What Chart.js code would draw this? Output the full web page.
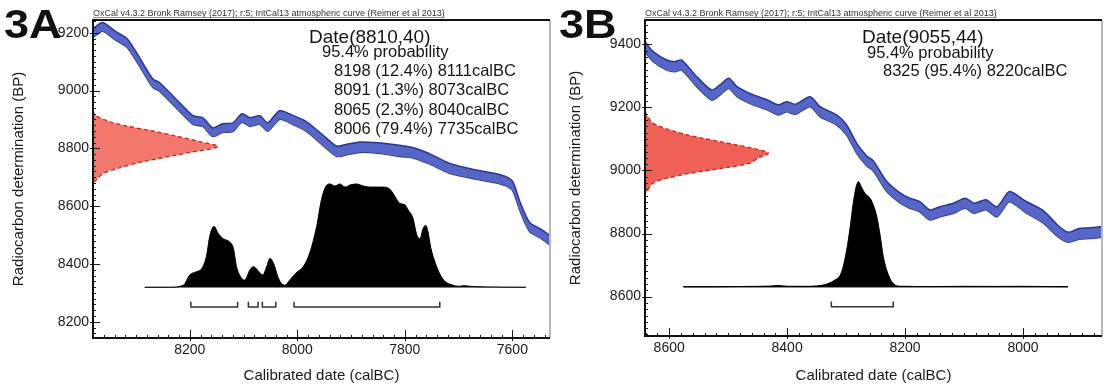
<!DOCTYPE html>
<html>
<head>
<meta charset="utf-8">
<script src="https://cdn.jsdelivr.net/npm/chart.js@4.4.1/dist/chart.umd.min.js"></script>
<style>
  html, body { margin: 0; padding: 0; background: #fff; }
  #wrap { position: relative; width: 1110px; height: 388px; overflow: hidden; }
  .panel { position: absolute; top: 0; width: 555px; height: 388px; }
  .tag { position: absolute; top: 1px; font: bold 41px "Liberation Sans", Arial, sans-serif; color: #111;
         transform: scaleX(1.1); transform-origin: left top; }
</style>
</head>
<body>
<div id="wrap">
  <div class="panel" style="left:0"><canvas id="chartA" width="555" height="388"></canvas></div>
  <div class="panel" style="left:555px"><canvas id="chartB" width="555" height="388"></canvas></div>
  <div class="tag" style="left:4px">3A</div>
  <div class="tag" style="left:559px">3B</div>
</div>
<script>
const header = "OxCal v4.3.2 Bronk Ramsey (2017); r:5; IntCal13 atmospheric curve (Reimer et al 2013)";

// ---- 3A ----
const dateA = "Date(8810,40)";
const fromA = [8198, 8091, 8065, 8006];
const toA = [8111, 8073, 8040, 7735];
const pctA = [12.4, 1.3, 2.3, 79.4];

const curveYearA = [8380, 8362, 8340, 8317, 8299, 8269, 8256, 8219, 8194, 8176, 8157, 8139, 8120, 8103, 8088, 8070, 8055, 8033, 8008, 7982, 7953, 7927, 7908, 7884, 7850, 7804, 7784, 7757, 7718, 7685, 7664, 7632, 7612, 7599, 7586, 7568, 7549, 7530];
const curveHiA = [9214, 9235, 9207, 9180, 9131, 9041, 9027, 8958, 8913, 8906, 8871, 8885, 8888, 8920, 8906, 8913, 8889, 8930, 8914, 8891, 8847, 8808, 8814, 8822, 8819, 8809, 8802, 8784, 8749, 8732, 8724, 8713, 8702, 8684, 8616, 8544, 8523, 8498];
const curveLoA = [9184, 9205, 9177, 9150, 9101, 9011, 8997, 8928, 8883, 8876, 8841, 8855, 8858, 8890, 8876, 8883, 8859, 8900, 8882, 8857, 8811, 8772, 8778, 8786, 8783, 8771, 8766, 8748, 8715, 8700, 8692, 8681, 8670, 8652, 8584, 8512, 8491, 8466];

const redBpA = [8930, 8915, 8892, 8877, 8860, 8842, 8823, 8806, 8786, 8754, 8731, 8713, 8690, 8680];
const redDensA = [0, 0.016, 0.136, 0.27, 0.48, 0.67, 0.856, 1.0, 0.78, 0.40, 0.197, 0.08, 0.024, 0];

const probYearA = [8284, 8237, 8212, 8200, 8188, 8178, 8169, 8163, 8155, 8147, 8138, 8126, 8119, 8113, 8104, 8098, 8088, 8082, 8076, 8070, 8064, 8057, 8051, 8044, 8036, 8030, 8023, 8014, 8002, 7989, 7977, 7964, 7955, 7945, 7939, 7930, 7921, 7911, 7902, 7890, 7877, 7865, 7853, 7840, 7828, 7822, 7815, 7809, 7800, 7794, 7785, 7778, 7772, 7766, 7761, 7757, 7752, 7743, 7734, 7725, 7712, 7700, 7690, 7675, 7650, 7620, 7575];
const probA = [0, 0, 0.02, 0.12, 0.15, 0.18, 0.30, 0.49, 0.59, 0.52, 0.47, 0.44, 0.38, 0.20, 0.09, 0.07, 0.17, 0.20, 0.18, 0.14, 0.12, 0.20, 0.28, 0.23, 0.10, 0.04, 0.02, 0.07, 0.14, 0.20, 0.33, 0.59, 0.85, 0.99, 1.0, 0.98, 1.0, 0.97, 0.99, 1.0, 0.98, 0.97, 0.97, 0.97, 0.95, 0.91, 0.85, 0.81, 0.80, 0.75, 0.67, 0.51, 0.47, 0.57, 0.60, 0.54, 0.39, 0.23, 0.12, 0.055, 0.023, 0.01, 0.015, 0.008, 0.004, 0.001, 0];
const baseA = [8284, 7575];

// ---- 3B ----
const dateB = "Date(9055,44)";
const fromB = [8325];
const toB = [8220];
const pctB = [95.4];

const curveYearB = [8641, 8627, 8604, 8590, 8579, 8553, 8528, 8514, 8499, 8485, 8457, 8434, 8415, 8401, 8386, 8361, 8344, 8316, 8299, 8282, 8265, 8254, 8231, 8208, 8192, 8175, 8158, 8141, 8118, 8098, 8083, 8063, 8044, 8023, 7996, 7965, 7941, 7923, 7905, 7887, 7863];
const curveHiB = [9408, 9377, 9350, 9345, 9350, 9297, 9255, 9271, 9292, 9266, 9239, 9224, 9208, 9218, 9210, 9234, 9202, 9176, 9144, 9086, 9046, 9031, 8965, 8928, 8912, 8901, 8875, 8885, 8896, 8912, 8896, 8907, 8885, 8933, 8903, 8872, 8826, 8804, 8816, 8818, 8823];
const curveLoB = [9376, 9345, 9318, 9313, 9318, 9265, 9223, 9239, 9260, 9234, 9207, 9192, 9176, 9186, 9178, 9202, 9170, 9144, 9112, 9054, 9014, 8999, 8933, 8896, 8880, 8869, 8843, 8853, 8864, 8880, 8864, 8875, 8853, 8901, 8867, 8832, 8790, 8772, 8782, 8784, 8789];

const redBpB = [9187, 9176, 9150, 9128, 9113, 9102, 9091, 9081, 9070, 9055, 9040, 9023, 9007, 8991, 8975, 8960, 8933, 8923];
const redDensB = [0, 0.014, 0.065, 0.203, 0.341, 0.47, 0.608, 0.746, 0.876, 1.0, 0.92, 0.85, 0.63, 0.365, 0.176, 0.067, 0.014, 0];

const probYearB = [8576, 8520, 8470, 8430, 8415, 8400, 8370, 8350, 8333, 8319, 8310, 8305, 8299, 8293, 8288, 8283, 8279, 8274, 8268, 8259, 8254, 8248, 8242, 8237, 8228, 8220, 8208, 8150, 8100, 8050, 8000, 7924];
const probB = [0, 0, 0.003, 0.006, 0.012, 0.005, 0.004, 0.008, 0.025, 0.064, 0.11, 0.19, 0.35, 0.57, 0.79, 0.95, 1.0, 0.95, 0.89, 0.84, 0.78, 0.67, 0.48, 0.29, 0.11, 0.03, 0.005, 0.002, 0.004, 0.003, 0.004, 0];
const baseB = [8576, 7924];

const FONT = '"Liberation Sans", Arial, sans-serif';
Chart.defaults.font.family = FONT;
Chart.defaults.color = '#1a1a1a';

// major ticks every 200 only
function hundreds(s) {
  const t = [];
  for (let v = Math.ceil(s.min / 200) * 200; v <= s.max; v += 200) t.push({value: v});
  s.ticks = t;
}

// axis frame with OxCal style minor ticks
const frame = {
  id: 'frame',
  afterDraw(chart) {
    const {ctx, chartArea: a, scales: {x, y}} = chart;
    ctx.save();
    ctx.strokeStyle = '#1a1a1a';
    ctx.lineWidth = 1;
    for (let v = Math.ceil(y.min / 20) * 20; v <= y.max; v += 20) {
      const py = Math.round(y.getPixelForValue(v)) + 0.5;
      const major = v % 200 === 0;
      ctx.beginPath();
      ctx.moveTo(a.left - (major ? 3 : 0), py);
      ctx.lineTo(a.left + (major ? 7 : 3), py);
      ctx.stroke();
    }
    for (let v = Math.ceil(x.min / 20) * 20; v <= x.max; v += 20) {
      const px = Math.round(x.getPixelForValue(v)) + 0.5;
      const major = v % 200 === 0;
      ctx.beginPath();
      ctx.moveTo(px, a.bottom + (major ? 3 : 0));
      ctx.lineTo(px, a.bottom - (major ? 8 : 3));
      ctx.stroke();
    }
    ctx.lineWidth = 2;
    ctx.strokeStyle = '#b8b8b8';
    ctx.beginPath();
    ctx.moveTo(a.right, a.top);
    ctx.lineTo(a.right, a.bottom);
    ctx.stroke();
    ctx.strokeStyle = '#111';
    ctx.beginPath();
    ctx.moveTo(a.right, a.top);
    ctx.lineTo(a.left, a.top);
    ctx.lineTo(a.left, a.bottom);
    ctx.lineTo(a.right, a.bottom);
    ctx.stroke();
    ctx.restore();
  }
};

// OxCal text block
const notes = {
  id: 'notes',
  afterDraw(chart, args, o) {
    const {ctx, chartArea: a} = chart;
    ctx.save();
    ctx.fillStyle = '#333';
    ctx.font = '9px ' + FONT;
    ctx.textBaseline = 'alphabetic';
    ctx.fillText(header, a.left, 16);
    const w = ctx.measureText(header).width;
    ctx.strokeStyle = '#777';
    ctx.lineWidth = 0.8;
    ctx.beginPath();
    ctx.moveTo(a.left, 17.5);
    ctx.lineTo(a.left + w, 17.5);
    ctx.stroke();

    ctx.fillStyle = '#151515';
    ctx.textBaseline = 'middle';
    ctx.font = '19px ' + FONT;
    ctx.fillText(o.date, o.dateX, o.dateY);
    ctx.font = '16.5px ' + FONT;
    ctx.fillText('95.4% probability', o.probX, o.probY);
    o.from.forEach((f, i) => {
      ctx.fillText(f + ' (' + o.pct[i] + '%) ' + o.to[i] + 'calBC', o.rowX, o.rowY + i * 19.5);
    });
    ctx.restore();
  }
};

function makeChart(id, cfg) {
  const datasets = [
    {
      // calibrated probability
      data: cfg.probYear.map((yr, i) => ({x: yr, y: cfg.prob[i]})),
      yAxisID: 'yd',
      borderColor: '#000',
      borderWidth: 1,
      backgroundColor: '#000',
      fill: {value: 0},
      cubicInterpolationMode: 'monotone',
      pointRadius: 0
    },
    {
      data: cfg.base.map(yr => ({x: yr, y: 0})),
      yAxisID: 'yd',
      borderColor: cfg.baseColor,
      borderWidth: 1.5,
      pointRadius: 0,
      fill: false
    },
    // calibration curve band
    {
      data: cfg.curveYear.map((yr, i) => ({x: yr, y: cfg.curveHi[i]})),
      borderColor: '#2c3690',
      borderWidth: 1.5,
      backgroundColor: '#5566c6',
      fill: '+1',
      tension: 0.25,
      pointRadius: 0
    },
    {
      data: cfg.curveYear.map((yr, i) => ({x: yr, y: cfg.curveLo[i]})),
      borderColor: '#2c3690',
      borderWidth: 1.5,
      fill: false,
      tension: 0.25,
      pointRadius: 0
    },
    // radiocarbon date distribution
    {
      data: cfg.redBp.map((bp, i) => ({x: cfg.redDens[i], y: bp})),
      xAxisID: 'xd',
      borderColor: '#c8251a',
      borderWidth: 1.3,
      borderDash: [4, 3],
      backgroundColor: cfg.redFill,
      fill: 'shape',
      tension: 0.3,
      pointRadius: 0
    }
  ];
  // ranges shown as brackets under the distribution
  cfg.from.forEach((f, i) => {
    datasets.push({
      data: [{x: f, y: -0.14}, {x: f, y: -0.19}, {x: cfg.to[i], y: -0.19}, {x: cfg.to[i], y: -0.14}],
      yAxisID: 'yd',
      borderColor: '#333',
      borderWidth: 1.5,
      pointRadius: 0,
      fill: false
    });
  });

  return new Chart(document.getElementById(id), {
    type: 'line',
    data: {datasets},
    options: {
      responsive: false,
      animation: false,
      events: [],
      layout: {padding: {top: 20, right: cfg.padRight, left: 0, bottom: 0}},
      plugins: {
        legend: {display: false},
        tooltip: {enabled: false},
        notes: cfg.notes
      },
      scales: {
        x: {
          type: 'linear', reverse: true, min: cfg.xMin, max: cfg.xMax,
          afterBuildTicks: hundreds,
          afterFit: s => { s.height = cfg.xHeight; },
          grid: {display: false, drawTicks: false},
          border: {display: false},
          ticks: {padding: 4, maxRotation: 0, autoSkip: false, callback: v => String(v),
                  font: {size: 14}, color: '#1a1a1a'},
          title: {display: true, text: 'Calibrated date (calBC)', font: {size: 15}, color: '#1a1a1a',
                  padding: {top: 0, bottom: 3}}
        },
        y: {
          type: 'linear', min: cfg.yMin, max: cfg.yMax,
          afterBuildTicks: hundreds,
          afterFit: s => { s.width = cfg.yWidth; },
          grid: {display: false, drawTicks: false},
          border: {display: false},
          ticks: {padding: 4, callback: v => String(v), font: {size: 14}, color: '#1a1a1a'},
          title: {display: true, text: 'Radiocarbon determination (BP)', font: {size: 15}, color: '#1a1a1a',
                  padding: {top: cfg.yTitlePad, bottom: 0}}
        },
        xd: {type: 'linear', display: false, min: 0, max: cfg.densMax},
        yd: {type: 'linear', display: false, min: cfg.probMin, max: cfg.probMax}
      }
    },
    plugins: [frame, notes]
  });
}

makeChart('chartA', {
  probYear: probYearA, prob: probA, base: baseA, baseColor: '#a8a8a8',
  curveYear: curveYearA, curveHi: curveHiA, curveLo: curveLoA,
  redBp: redBpA, redDens: redDensA, redFill: 'rgba(240, 100, 88, 0.88)',
  from: fromA, to: toA,
  xMin: 7530, xMax: 8380, yMin: 8144, yMax: 9244,
  densMax: 3.656, probMin: -0.4906, probMax: 2.587,
  yWidth: 93, xHeight: 50, padRight: 5, yTitlePad: 10,
  notes: {date: dateA, from: fromA, to: toA, pct: pctA,
          dateX: 309, dateY: 38, probX: 322, probY: 52, rowX: 334, rowY: 71}
});

makeChart('chartB', {
  probYear: probYearB, prob: probB, base: baseB, baseColor: '#222',
  curveYear: curveYearB, curveHi: curveHiB, curveLo: curveLoB,
  redBp: redBpB, redDens: redDensB, redFill: 'rgba(238, 84, 72, 0.92)',
  from: fromB, to: toB,
  xMin: 7866, xMax: 8641, yMin: 8475, yMax: 9477,
  densMax: 3.706, probMin: -0.469, probMax: 2.54,
  yWidth: 90, xHeight: 52, padRight: 8, yTitlePad: 12,
  notes: {date: dateB, from: fromB, to: toB, pct: pctB,
          dateX: 307, dateY: 38, probX: 312, probY: 53, rowX: 328, rowY: 71}
});
</script>
</body>
</html>
